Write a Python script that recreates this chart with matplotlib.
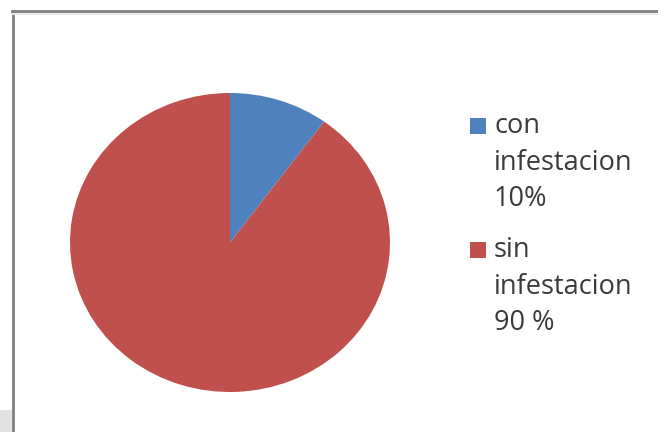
import matplotlib.pyplot as plt
from matplotlib.lines import Line2D
from matplotlib.patches import Rectangle

labels = ["con\ninfestacion\n10%", "sin\ninfestacion\n90 %"]
values = [10, 90]
colors = ["#4F81BD", "#C0504D"]

plt.rcParams['font.family'] = ['Open Sans', 'DejaVu Sans']

fig = plt.figure(figsize=(6.58, 4.32), dpi=100)

# marco del grafico
fig.add_artist(Rectangle((0, 0), 12/658, 22/432, transform=fig.transFigure,
                         color="#e2e2e2", lw=0))
fig.add_artist(Line2D([13/658, 13/658], [0, 1 - 11/432], transform=fig.transFigure,
                      color="#7f7f7f", lw=2))
fig.add_artist(Line2D([12/658, 1], [1 - 11/432, 1 - 11/432], transform=fig.transFigure,
                      color="#7f7f7f", lw=2))
fig.add_artist(Line2D([12/658, 1], [1 - 13.5/432, 1 - 13.5/432], transform=fig.transFigure,
                      color="#e6e6e6", lw=1.5))

ax = fig.add_axes([70/658, 40/432, 320/658, 299/432])
ax.pie(values, colors=colors, startangle=90, counterclock=False,
       wedgeprops=dict(linewidth=0))
ax.set_aspect('auto')
ax.set_xlim(-1, 1)
ax.set_ylim(-1, 1)

# leyenda
for i, (lab, col) in enumerate(zip(labels, colors)):
    base = 134 + i * 124
    fig.add_artist(Rectangle((470/658, 1 - base/432), 16/658, 16/432,
                             transform=fig.transFigure, color=col, lw=0))
    # va='baseline' alinea la ultima linea
    fig.text(494/658, 1 - (base + 72)/432, lab, fontsize=19.5, color="#3a3a3a",
             va="baseline", ha="left", linespacing=1.4)

fig.savefig("out.png", dpi=100)
